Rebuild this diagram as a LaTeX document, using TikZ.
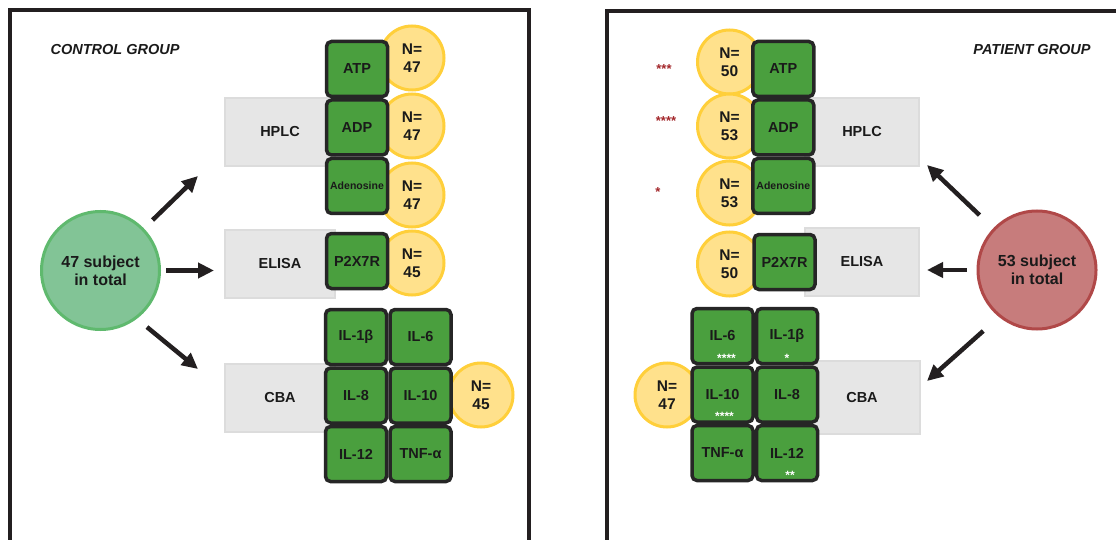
\documentclass[tikz,border=0pt]{standalone}
\usepackage{fontspec}
\setmainfont{Liberation Sans}
\usetikzlibrary{arrows.meta, positioning}
\definecolor{framegray}{HTML}{231F20}
\definecolor{methodfill}{HTML}{E6E6E6}
\definecolor{methodline}{HTML}{DCDCDC}
\definecolor{boxgreen}{HTML}{4A9F3E}
\definecolor{boxline}{HTML}{262626}
\definecolor{nfill}{HTML}{FFE18C}
\definecolor{nline}{HTML}{FFCF3A}
\definecolor{ctrlfill}{HTML}{82C496}
\definecolor{ctrlline}{HTML}{5FB96E}
\definecolor{patfill}{HTML}{C77C7C}
\definecolor{patline}{HTML}{B04848}
\definecolor{stared}{HTML}{A3262A}
\definecolor{labeltext}{HTML}{1A1A1A}

\begin{document}
\begin{tikzpicture}[x=1pt, y=-1pt, font=\bfseries]
    \tikzset{
        method/.style={rectangle, draw=methodline, line width=2pt, fill=methodfill,
                       minimum width=110pt, minimum height=68pt, inner sep=0pt,
                       text=labeltext, font=\fontsize{14.5}{16}\selectfont\bfseries},
        analyte/.style={rectangle, rounded corners=5pt, draw=boxline, line width=3.5pt,
                        fill=boxgreen, minimum width=61pt, minimum height=55pt,
                        inner sep=0pt, text=labeltext,
                        font=\fontsize{14.5}{16}\selectfont\bfseries},
        samplen/.style={circle, draw=nline, line width=3pt, fill=nfill,
                        minimum size=64pt, inner sep=0pt, align=center, text=labeltext,
                        font=\fontsize{15.5}{18}\selectfont\bfseries},
        cohort/.style={circle, line width=3pt, minimum size=118pt, inner sep=0pt,
                       align=center, text=labeltext,
                       font=\fontsize{16}{18}\selectfont\bfseries},
        grouptitle/.style={text=labeltext, font=\fontsize{14.5}{16}\selectfont\bfseries\itshape},
        arrow/.style={line width=4.5pt, draw=framegray, -{Triangle[length=16pt, width=15pt]}},
        redstar/.style={text=stared, inner sep=0pt, font=\fontsize{13}{13}\selectfont\bfseries},
        whitestar/.style={text=white, inner sep=0pt, font=\fontsize{12}{12}\selectfont\bfseries},
        panel/.style={line width=3.5pt, draw=framegray}
    }
    \clip (0,0) rectangle (1116,540);
    \fill[white] (0,0) rectangle (1116,540);

    % panels
    \draw[panel] (10,560) -- (10,10) -- (529,10) -- (529,560);
    \draw[panel] (607,560) -- (607,11) -- (1140,11);
    \node[grouptitle] (ctrltitle) at (115,50) {CONTROL GROUP};
    \node[grouptitle] (pattitle)  at (1032,50) {PATIENT GROUP};

    % control group
    \node[method] (lHPLC)  at (280,132) {HPLC};
    \node[method] (lELISA) at (280,264) {ELISA};
    \node[method] (lCBA)   at (280,398) {CBA};

    \node[samplen] (lnATP) at (412,58)  {N=\\47};
    \node[samplen] (lnADP) at (412,126) {N=\\47};
    \node[samplen] (lnAdo) at (412,195) {N=\\47};
    \node[samplen] (lnP2X) at (412,263) {N=\\45};
    \node[samplen] (lnCBA) at (481,395) {N=\\45};

    \node[analyte] (lATP) at (357,69) {ATP};
    \node[analyte, below=0pt of lATP] (lADP) {ADP};
    \node[analyte, below=0pt of lADP, font=\fontsize{10.5}{12}\selectfont\bfseries] (lAdo) {Adenosine};
    \node[analyte] (lP2X) at (357,261) {P2X7R};

    \node[analyte] (lIL1b) at (356,337) {IL-1β};
    \node[analyte, right=0pt of lIL1b] (lIL6)  {IL-6};
    \node[analyte, below=0pt of lIL1b] (lIL8)  {IL-8};
    \node[analyte, right=0pt of lIL8]  (lIL10) {IL-10};
    \node[analyte, below=0pt of lIL8]  (lIL12) {IL-12};
    \node[analyte, right=0pt of lIL12] (lTNF)  {TNF-α};

    \node[cohort, draw=ctrlline, fill=ctrlfill] (ctrl) at (100.5,270.5) {47 subject\\in total};

    \coordinate (tipLH) at (198,176);
    \coordinate (tipLE) at (214,270.5);
    \coordinate (tipLC) at (198,369);
    \draw[arrow, shorten <=12pt] (ctrl) -- (tipLH);
    \draw[arrow, shorten <=5pt]  (ctrl) -- (tipLE);
    \draw[arrow, shorten <=13pt] (ctrl.-53) -- (tipLC);

    % patient group
    \node[method, minimum width=114pt] (rHPLC)  at (862,132) {HPLC};
    \node[method, minimum width=114pt] (rELISA) at (862,262) {ELISA};
    \node[method, minimum width=116pt, minimum height=73pt] (rCBA) at (862,397.5) {CBA};

    \node[samplen] (rnATP) at (729.5,62)  {N=\\50};
    \node[samplen] (rnADP) at (729.5,126) {N=\\53};
    \node[samplen] (rnAdo) at (729.5,193) {N=\\53};
    \node[samplen] (rnP2X) at (729.5,264) {N=\\50};
    \node[samplen] (rnCBA) at (667,395)   {N=\\47};

    \node[analyte] (rATP) at (783.3,69) {ATP};
    \node[analyte, below=0pt of rATP] (rADP) {ADP};
    \node[analyte, below=0pt of rADP, font=\fontsize{10.5}{12}\selectfont\bfseries] (rAdo) {Adenosine};
    \node[analyte] (rP2X) at (784.5,262) {P2X7R};

    \node[analyte] (rIL6) at (722.5,336) {IL-6};
    \node[analyte, right=0pt of rIL6]  (rIL1b) {IL-1β};
    \node[analyte, below=0pt of rIL6]  (rIL10) {IL-10};
    \node[analyte, right=0pt of rIL10] (rIL8)  {IL-8};
    \node[analyte, below=0pt of rIL10] (rTNF)  {TNF-α};
    \node[analyte, right=0pt of rTNF]  (rIL12) {IL-12};

    \node[whitestar] (sIL6)  at ([xshift=4pt, yshift=-22pt]rIL6.center)  {****};
    \node[whitestar] (sIL1b) at ([yshift=-22pt]rIL1b.center) {*};
    \node[whitestar] (sIL10) at ([xshift=2pt, yshift=-22pt]rIL10.center) {****};
    \node[whitestar] (sIL12) at ([xshift=3pt, yshift=-22pt]rIL12.center) {**};

    \node[redstar] (sATP) at (664,69)  {***};
    \node[redstar] (sADP) at (666,121) {****};
    \node[redstar] (sAdo) at (658,192) {*};

    \node[cohort, draw=patline, fill=patfill] (pat) at (1037,270) {53 subject\\in total};

    \coordinate (tipRH) at (927,165);
    \coordinate (tipRE) at (927,270);
    \coordinate (tipRC) at (927,381);
    \draw[arrow, shorten <=19pt] (pat) -- (tipRH);
    \draw[arrow, shorten <=10pt] (pat) -- (tipRE);
    \draw[arrow, shorten <=21pt] (pat.-129) -- (tipRC);
\end{tikzpicture}
\end{document}
